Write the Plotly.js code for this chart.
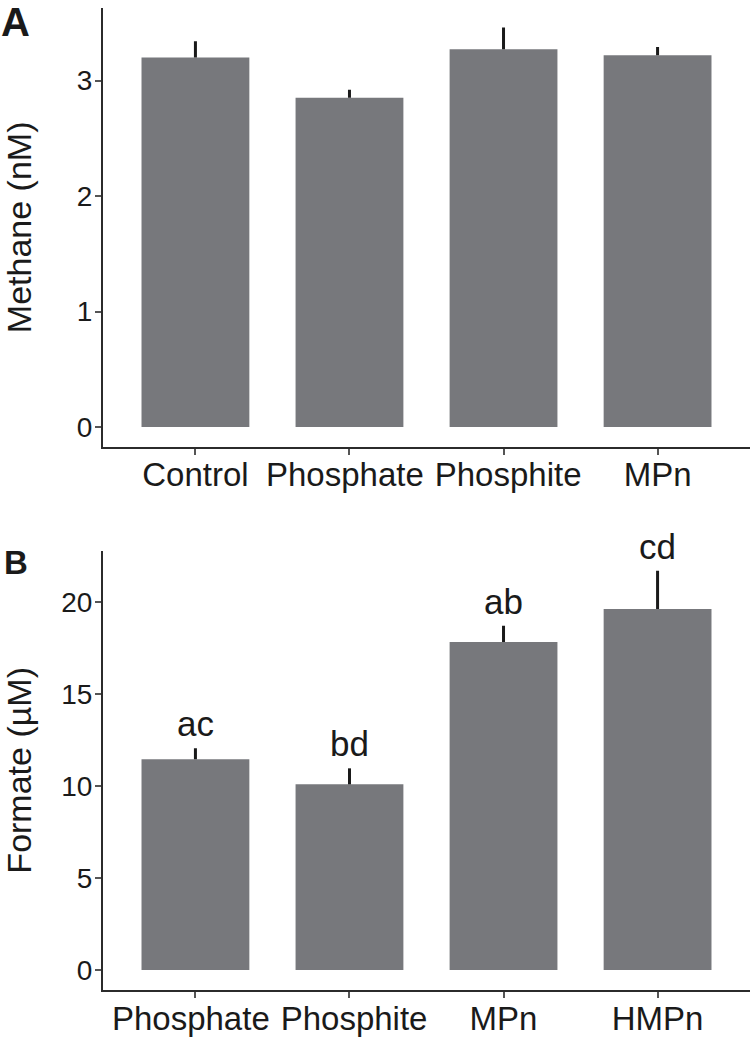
<!DOCTYPE html>
<html>
<head>
<meta charset="utf-8">
<script src="https://cdn.plot.ly/plotly-3.0.1.min.js"></script>
<style>html,body{margin:0;padding:0;background:#fff;}#chart{width:750px;height:1039px;}</style>
</head>
<body>
<div id="chart"></div>
<script>
// Panel A data
const catsA = ['Control', 'Phosphate', 'Phosphite', 'MPn'];
const methane = [3.20, 2.85, 3.27, 3.22];
const methaneErr = [0.14, 0.07, 0.19, 0.07];
const ticksA = [0, 1, 2, 3];

// Panel B data
const catsB = ['Phosphate', 'Phosphite', 'MPn', 'HMPn'];
const formate = [11.45, 10.09, 17.83, 19.62];
const formateErr = [0.60, 0.87, 0.88, 2.08];
const lettersB = ['ac', 'bd', 'ab', 'cd'];
const ticksB = [0, 5, 10, 15, 20];

const W = 750, H = 1039;
const FONT = 'Liberation Sans, Arial, Helvetica, sans-serif';
const barColor = '#77787c';
const errColor = '#1a1a1a';
const txtColor = '#1a1a1a';

const px = v => v / W;
const py = v => 1 - v / H;

// small label nudges so neighbouring long labels keep a gap (as in the reference)
const NB = '\u00a0';
const padLabel = c => c === 'Phosphate' ? c + NB : (c === 'Phosphite' ? NB + c : c);

const traces = [
  {
    type: 'bar', x: catsA, y: methane, xaxis: 'x', yaxis: 'y',
    width: 0.7, marker: {color: barColor, line: {width: 0}},
    error_y: {type: 'data', symmetric: false, array: methaneErr, arrayminus: catsA.map(() => 0),
              color: errColor, thickness: 3, width: 0},
    hoverinfo: 'x+y', showlegend: false
  },
  {
    type: 'bar', x: catsB, y: formate, xaxis: 'x2', yaxis: 'y2',
    width: 0.7, marker: {color: barColor, line: {width: 0}},
    error_y: {type: 'data', symmetric: false, array: formateErr, arrayminus: catsB.map(() => 0),
              color: errColor, thickness: 3, width: 0},
    hoverinfo: 'x+y', showlegend: false
  }
];

const axisCommon = {
  showgrid: false, zeroline: false, showline: true, linewidth: 2, linecolor: '#2b2b2b',
  ticks: 'outside', ticklen: 6, tickwidth: 2, tickcolor: '#555',
  fixedrange: true
};

const annotations = catsB.map((c, i) => ({
  x: c, y: formate[i] + formateErr[i], xref: 'x2', yref: 'y2',
  text: lettersB[i], showarrow: false, yanchor: 'bottom', yshift: 3,
  font: {family: FONT, size: 35, color: txtColor}
}));
annotations.push({
  x: px(-1), y: py(-2), xref: 'paper', yref: 'paper', xanchor: 'left', yanchor: 'top',
  text: '<b>A</b>', showarrow: false, font: {family: FONT, size: 40, color: '#1a1a1a'}
});
annotations.push({
  x: px(2), y: py(542), xref: 'paper', yref: 'paper', xanchor: 'left', yanchor: 'top',
  text: '<b>B</b>', showarrow: false, font: {family: FONT, size: 33, color: '#1a1a1a'}
});

const layout = {
  width: W, height: H,
  margin: {l: 0, r: 0, t: 0, b: 0},
  paper_bgcolor: '#fff', plot_bgcolor: '#fff',
  font: {family: FONT, color: txtColor},
  showlegend: false,
  xaxis: Object.assign({}, axisCommon, {
    domain: [px(103), 1], anchor: 'y', type: 'category', tickangle: 0, ticklabelstandoff: -8,
    tickvals: catsA, ticktext: catsA.map(padLabel),
    range: [-0.6, 3.6], tickfont: {family: FONT, size: 33, color: txtColor}
  }),
  yaxis: Object.assign({}, axisCommon, {
    domain: [py(446.7), py(8)], anchor: 'x', ticklabelstandoff: -3,
    range: [-0.17, 3.628], tickvals: ticksA, ticktext: ticksA.map(String),
    tickfont: {family: FONT, size: 28, color: txtColor},
    title: {text: 'Methane (nM)', font: {family: FONT, size: 34, color: txtColor}, standoff: 36}
  }),
  xaxis2: Object.assign({}, axisCommon, {
    domain: [px(103), 1], anchor: 'y2', type: 'category', tickangle: 0, ticklabelstandoff: -8,
    tickvals: catsB, ticktext: catsB.map(padLabel),
    range: [-0.6, 3.6], tickfont: {family: FONT, size: 33, color: txtColor}
  }),
  yaxis2: Object.assign({}, axisCommon, {
    domain: [py(990), py(550.7)], anchor: 'x2', ticklabelstandoff: -3,
    range: [-1.09, 22.79], tickvals: ticksB, ticktext: ticksB.map(String),
    tickfont: {family: FONT, size: 28, color: txtColor},
    title: {text: 'Formate (µM)', font: {family: FONT, size: 34, color: txtColor}, standoff: 22}
  }),
  annotations: annotations
};

Plotly.newPlot('chart', traces, layout, {displayModeBar: false, staticPlot: true});
</script>
</body>
</html>
